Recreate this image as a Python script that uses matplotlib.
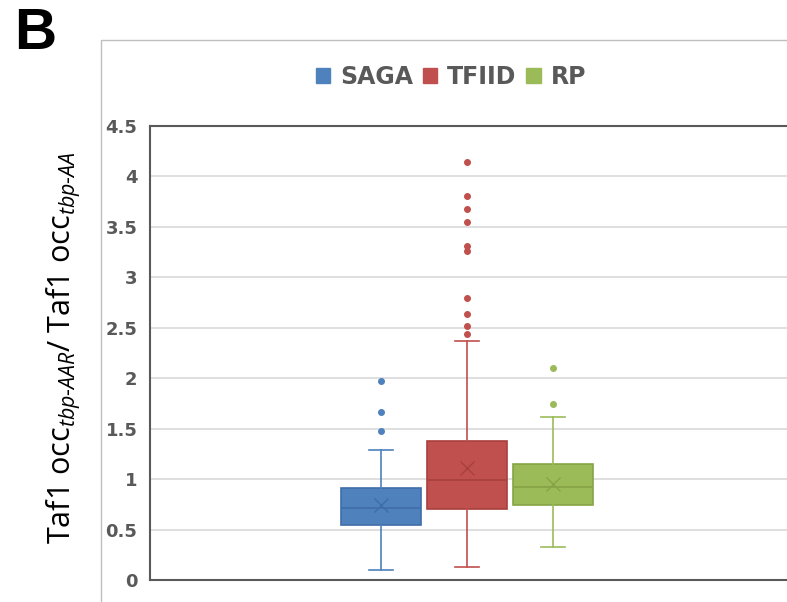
import numpy as np
import matplotlib
matplotlib.use("Agg")
import matplotlib.pyplot as plt
from matplotlib.patches import Patch, Rectangle

plt.rcParams['font.family'] = ['Open Sans', 'DejaVu Sans']
plt.rcParams['mathtext.fontset'] = 'custom'
plt.rcParams['mathtext.rm'] = 'Open Sans'
plt.rcParams['mathtext.it'] = 'Open Sans:italic'

# box statistics
groups = ["SAGA", "TFIID", "RP"]
colors = ["#4F81BD", "#C0504D", "#9BBB59"]
edges = ["#3F6DA8", "#A9403D", "#86A446"]
q1 = [0.548, 0.707, 0.740]
med = [0.711, 0.988, 0.922]
q3 = [0.909, 1.375, 1.147]
means = [0.743, 1.113, 0.948]
whislo = [0.099, 0.132, 0.324]
whishi = [1.288, 2.366, 1.612]
fliers = [
    [1.972, 1.668, 1.474],
    [4.14, 3.806, 3.674, 3.548, 3.31, 3.258, 2.792, 2.633, 2.52, 2.438],
    [2.104, 1.747],
]
yticks = [0, 0.5, 1, 1.5, 2, 2.5, 3, 3.5, 4, 4.5]

fig = plt.figure(figsize=(7.87, 6.02), dpi=100)

# outer chart frame
fig.patches.append(Rectangle((100.7 / 787, -0.1), 1.0, 1.1 - 40.3 / 602,
                             transform=fig.transFigure, fill=False,
                             edgecolor="#bfbfbf", lw=1.0))

ax = fig.add_axes([150 / 787, 1 - 580 / 602, 640 / 787, 454 / 602])

stats = []
for i in range(3):
    stats.append(dict(q1=q1[i], med=med[i], q3=q3[i], mean=means[i],
                      whislo=whislo[i], whishi=whishi[i], fliers=fliers[i]))

for i, st in enumerate(stats):
    ax.bxp([st], positions=[i + 1], widths=0.92, capwidths=0.28,
           showmeans=True, patch_artist=True,
           boxprops=dict(facecolor=colors[i], edgecolor=edges[i], lw=1.2),
           medianprops=dict(color=edges[i], lw=1.2),
           whiskerprops=dict(color=colors[i], lw=1.2),
           capprops=dict(color=colors[i], lw=1.2),
           meanprops=dict(marker='x', markeredgecolor=edges[i],
                          markersize=10, markeredgewidth=1.0),
           flierprops=dict(marker='o', markerfacecolor=colors[i],
                           markeredgecolor=colors[i], markersize=4))

ax.set_xlim(2 - 317 / 86, 2 + 323 / 86)
ax.set_ylim(0, 4.5)
ax.set_yticks(yticks)
ax.set_yticklabels([("%g" % t) for t in yticks], fontsize=13,
                   fontweight='bold', color="#595959", family='DejaVu Sans')
ax.set_xticks([])
ax.tick_params(axis='y', length=0, pad=9)
ax.yaxis.grid(True, color="#d9d9d9", lw=1.2)
ax.set_axisbelow(True)
for s in ax.spines.values():
    s.set_color("#595959")
    s.set_linewidth(1.5)
ax.spines['right'].set_visible(False)

handles = [Patch(facecolor=c, edgecolor=c) for c in colors]
leg = fig.legend(handles, groups, loc='center', bbox_to_anchor=(451 / 787, 1 - 77 / 602),
                 ncol=3, frameon=False, handlelength=0.6, handleheight=0.6,
                 handletextpad=0.42, columnspacing=0.42,
                 prop=dict(size=17, weight='bold', family='DejaVu Sans'))
for t in leg.get_texts():
    t.set_color("#595959")

fig.text(64 / 787, 1 - 348 / 602,
         r'Taf1 occ$_{\mathit{tbp}\mathrm{\text{-}}\mathit{AAR}}$/ Taf1 occ$_{\mathit{tbp}\mathrm{\text{-}}\mathit{AA}}$',
         rotation=90, ha='center', va='center', fontsize=22, color='black')

fig.text(14 / 787, 1 - 7 / 602, 'B', fontsize=42, fontweight='bold',
         ha='left', va='top', family=['Liberation Sans', 'DejaVu Sans'])

fig.savefig("out.png", dpi=100)
